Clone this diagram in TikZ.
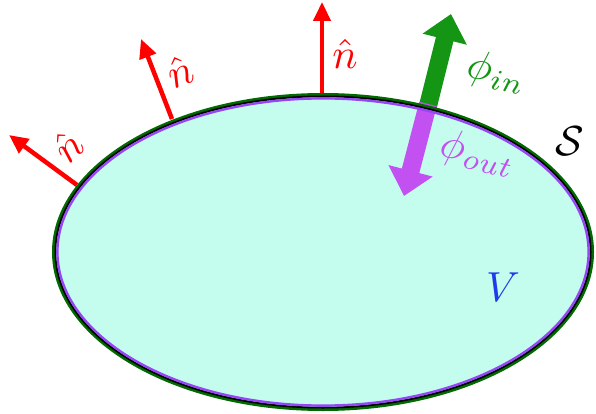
\documentclass[tikz,border=0pt]{standalone}
\usetikzlibrary{arrows.meta}
\definecolor{volfill}{RGB}{196,253,238}
\definecolor{surfgreen}{RGB}{0,105,0}
\definecolor{fluxgreen}{RGB}{20,150,20}
\definecolor{fluxpurple}{RGB}{195,80,240}
\definecolor{edgepurple}{RGB}{150,70,245}
\definecolor{vblue}{RGB}{30,60,235}
\begin{document}
\begin{tikzpicture}[x=1pt,y=-1pt,
  normalarrow/.style={draw=red,line width=4.5pt,-{Triangle[length=19pt,width=17pt]}},
  fluxarrow/.style={line width=18pt,-{Triangle[length=26pt,width=44pt]}},
  biglabel/.style={scale=4.2,inner sep=0pt}]
\useasboundingbox (0,0) rectangle (596,414);
% volume
\coordinate (c) at (323,252);
\fill[volfill] (c) ellipse [x radius=269pt, y radius=157pt];
% normals
\coordinate (b1) at (77,185); \coordinate (t1) at (9,135);
\coordinate (b2) at (172,119); \coordinate (t2) at (141,39);
\coordinate (b3) at (322,95); \coordinate (t3) at (322,2);
\draw[normalarrow] (b1) -- (t1);
\draw[normalarrow] (b2) -- (t2);
\draw[normalarrow] (b3) -- (t3);
% fluxes
\coordinate (gb) at (428,106); \coordinate (gt) at (451,14);
\coordinate (pb) at (428,104); \coordinate (pt) at (404,196);
\draw[fluxarrow,fluxgreen] (gb) -- (gt);
\draw[fluxarrow,fluxpurple] (pb) -- (pt);
% surface outline
\draw[surfgreen,line width=3pt] (c) ellipse [x radius=269.5pt, y radius=157.5pt];
\draw[black,line width=1.8pt] (c) ellipse [x radius=267.6pt, y radius=155.6pt];
\draw[edgepurple,line width=2.4pt] (c) ellipse [x radius=265.6pt, y radius=153.6pt];
% labels
\node[biglabel,red,rotate=42] (n1) at (68,146) {$\hat{n}$};
\node[biglabel,red,rotate=21] (n2) at (180,71) {$\hat{n}$};
\node[biglabel,red] (n3) at (345,54) {$\hat{n}$};
\node[biglabel,fluxgreen,rotate=-13] (phin) at (497,73) {$\phi_{in}$};
\node[biglabel,fluxpurple,rotate=-13] (phout) at (478,154) {$\phi_{out}$};
\node[biglabel,black] (S) at (570,141) {$\mathcal{S}$};
\node[biglabel,vblue] (V) at (503,287) {$V$};
\end{tikzpicture}
\end{document}
